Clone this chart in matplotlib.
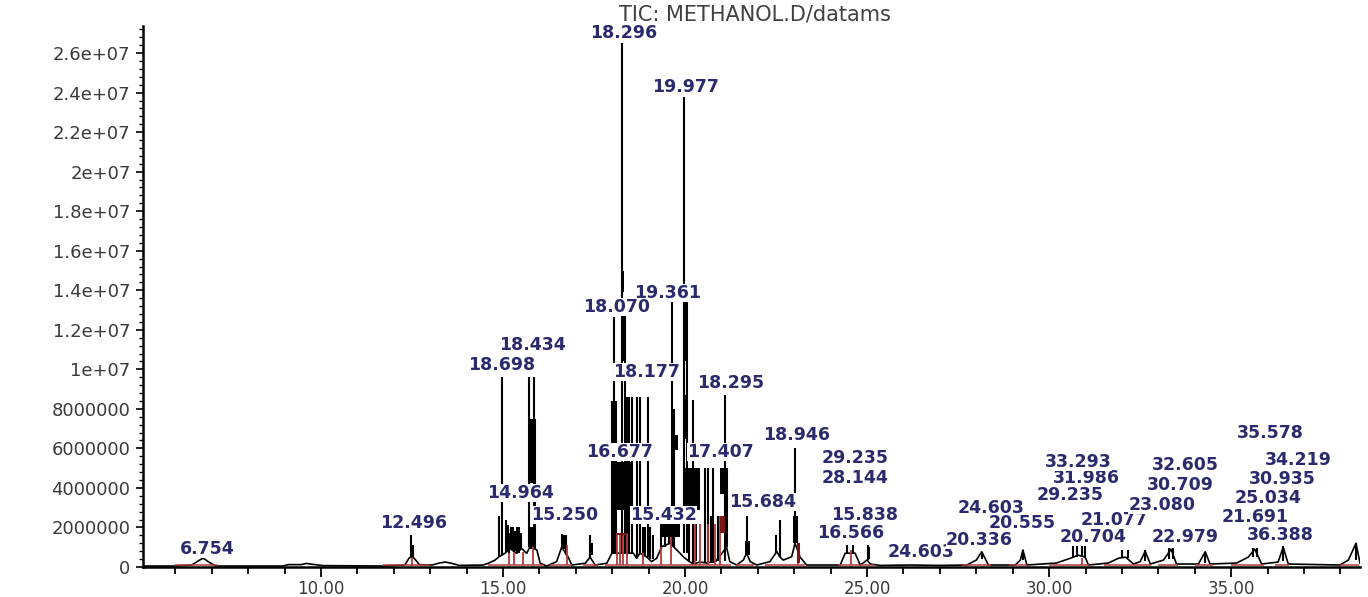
import matplotlib
matplotlib.use('Agg')
import matplotlib.pyplot as plt
from matplotlib.ticker import MultipleLocator, FixedLocator, FixedFormatter
import numpy as np

M = 1e6  # abundances below are in millions

# low level TIC trace: (retention time min, abundance)
tic_trace = [
    (5.11, 0.05), (6.00, 0.05), (6.45, 0.10), (6.62, 0.30), (6.76, 0.45), (6.92, 0.25),
    (7.10, 0.05), (8.95, 0.05), (9.10, 0.12), (9.45, 0.12), (9.60, 0.18), (9.75, 0.14),
    (10.05, 0.07), (11.70, 0.05), (12.30, 0.10), (12.42, 0.45), (12.50, 0.55), (12.58, 0.40),
    (12.70, 0.12), (13.05, 0.10), (13.25, 0.20), (13.42, 0.25), (13.60, 0.18), (13.80, 0.08),
    (14.45, 0.10), (14.60, 0.19), (14.78, 0.35), (14.89, 0.52), (15.05, 0.69), (15.19, 0.94),
    (15.37, 0.69), (15.51, 0.94), (15.65, 0.69), (15.74, 1.03), (15.93, 0.86), (16.02, 0.19),
    (16.20, 0.05), (16.47, 0.27), (16.61, 1.00), (16.79, 0.50), (16.89, 0.10), (17.26, 0.19),
    (17.39, 0.50), (17.53, 0.10), (17.85, 0.19), (17.99, 0.70), (18.58, 0.70), (18.67, 0.44),
    (18.76, 0.70), (18.94, 0.52), (19.08, 0.27), (19.22, 0.44), (19.36, 1.03), (19.59, 1.20),
    (19.86, 0.70), (19.95, 0.52), (20.10, 0.30), (20.22, 0.15), (20.40, 0.25), (20.60, 0.20),
    (20.85, 0.30), (21.14, 1.00), (21.23, 0.27), (21.42, 0.10), (21.60, 0.35), (21.69, 0.70),
    (21.79, 0.27), (21.97, 0.10), (22.33, 0.27), (22.52, 0.78), (22.60, 0.52), (22.70, 0.35),
    (22.93, 0.52), (23.02, 1.20), (23.16, 0.50), (23.34, 0.10), (24.26, 0.10), (24.40, 0.70),
    (24.53, 0.70), (24.67, 0.70), (24.81, 0.10), (25.00, 0.35), (25.09, 0.15), (25.36, 0.08),
    (26.20, 0.10), (27.00, 0.08), (27.74, 0.10), (28.00, 0.35), (28.15, 0.77), (28.24, 0.44),
    (28.33, 0.10), (29.07, 0.10), (29.21, 0.35), (29.28, 0.86), (29.39, 0.10), (30.20, 0.20),
    (30.58, 0.44), (30.80, 0.60), (30.99, 0.50), (31.08, 0.10), (31.63, 0.20), (31.90, 0.44),
    (32.10, 0.50), (32.32, 0.15), (32.50, 0.27), (32.64, 0.80), (32.78, 0.15), (33.14, 0.35),
    (33.35, 0.90), (33.50, 0.15), (34.10, 0.15), (34.29, 0.77), (34.42, 0.15), (35.15, 0.20),
    (35.47, 0.50), (35.65, 0.90), (35.84, 0.15), (36.29, 0.25), (36.43, 1.00), (36.57, 0.15),
    (37.99, 0.10), (38.22, 0.35), (38.43, 1.20), (38.54, 0.20),
]

# sharp scan spikes: (time, low, high)
spikes = [
    (12.47, 0.45, 1.62), (12.53, 0.45, 1.11),
    (14.89, 0.5, 2.6), (14.97, 0.6, 9.6), (15.08, 0.7, 2.4), (15.13, 0.8, 2.1),
    (15.22, 0.9, 2.0), (15.28, 0.8, 2.0), (15.33, 0.8, 1.8), (15.37, 0.7, 2.0),
    (15.44, 0.9, 2.0), (15.50, 0.9, 1.7),
    (15.70, 1.0, 9.6), (15.85, 1.0, 9.6), (15.88, 1.0, 7.5),
    (16.62, 0.9, 1.65), (16.72, 0.6, 1.6), (17.39, 0.5, 1.6),
    (17.99, 0.7, 8.4), (18.05, 0.7, 12.66), (18.10, 0.7, 8.4), (18.28, 0.7, 26.5),
    (18.34, 0.7, 12.7), (18.40, 0.7, 8.6), (18.46, 0.7, 8.6), (18.55, 0.7, 8.6),
    (18.68, 0.5, 8.6), (18.76, 0.7, 8.6), (18.98, 0.5, 8.6),
    (18.85, 0.5, 2.0), (18.90, 0.6, 2.0), (19.04, 0.4, 2.0), (19.12, 0.4, 1.6),
    (19.33, 1.0, 2.5), (19.45, 1.0, 2.5), (19.55, 1.2, 2.5),
    (19.64, 1.0, 13.4), (19.70, 1.0, 8.0), (19.97, 0.7, 23.8), (20.04, 0.7, 13.4),
    (20.22, 0.15, 8.45), (20.12, 0.3, 5.0),
    (20.31, 0.3, 2.6), (20.54, 0.2, 5.0), (20.63, 0.2, 5.0), (20.72, 0.2, 2.6),
    (20.77, 0.2, 5.0), (20.91, 0.3, 2.6), (21.10, 0.3, 8.7), (21.14, 1.0, 5.0),
    (21.70, 0.7, 2.6), (22.50, 0.7, 1.6), (22.60, 0.52, 2.4), (23.02, 1.2, 6.0),
    (24.45, 0.7, 1.1), (24.62, 0.7, 1.1), (25.03, 0.35, 1.1),
    (28.16, 0.4, 0.77), (29.28, 0.35, 0.86), (30.67, 0.44, 1.04), (30.76, 0.5, 1.04),
    (30.90, 0.5, 1.04), (30.99, 0.5, 1.04), (32.00, 0.44, 0.86), (32.18, 0.44, 0.86),
    (32.64, 0.3, 0.86), (33.28, 0.4, 0.94), (33.41, 0.4, 0.94), (34.29, 0.2, 0.77),
    (35.59, 0.5, 0.94), (35.72, 0.5, 0.94), (36.43, 0.3, 1.04), (38.43, 0.35, 1.21),
]

# dense scan regions drawn solid: (t0, t1, low, high)
dense = [
    (14.95, 14.99, 4.25, 5.3), (15.70, 15.88, 4.25, 7.5), (15.70, 15.90, 0.9, 2.0),
    (15.14, 15.20, 0.7, 1.7), (15.30, 15.34, 0.8, 1.7), (15.40, 15.46, 0.7, 1.6),
    (16.58, 16.75, 0.9, 1.6), (17.39, 17.47, 0.6, 1.2), (17.99, 18.10, 6.1, 6.9),
    (18.26, 18.32, 13.9, 15.0), (18.27, 18.35, 10.4, 12.7), (17.99, 18.54, 2.9, 5.3),
    (19.64, 19.80, 5.9, 6.7), (19.95, 20.05, 10.4, 13.4), (19.95, 20.05, 6.5, 8.7),
    (19.95, 20.41, 2.9, 5.0), (19.62, 19.68, 2.9, 4.9), (20.96, 21.15, 3.7, 5.0),
    (19.31, 19.86, 1.5, 2.4), (21.66, 21.78, 0.6, 1.3), (22.97, 23.10, 1.2, 2.6),
    (25.00, 25.08, 0.4, 1.0),
]

# integration marks (red)
red_marks = [
    (12.50, 0.05, 0.5), (15.15, 0.1, 0.69), (15.31, 0.1, 0.75), (15.54, 0.1, 0.75),
    (15.81, 0.1, 1.0), (16.77, 0.1, 1.1), (18.12, 0.1, 1.7), (18.21, 0.1, 1.7),
    (18.30, 0.1, 1.7), (18.40, 0.1, 1.7), (18.85, 0.1, 0.69), (19.35, 0.1, 1.0),
    (19.62, 0.1, 1.5), (20.27, 0.1, 2.2), (20.41, 0.1, 2.2), (20.63, 0.1, 2.2),
    (20.81, 0.1, 2.2), (20.96, 0.1, 2.6), (23.10, 0.1, 1.2), (24.55, 0.1, 0.87),
    (30.90, 0.1, 0.44),
]
red_dense = [(18.12, 18.40, 1.6, 1.7), (20.96, 21.10, 1.7, 2.6), (23.07, 23.16, 0.2, 1.2)]
red_base_t0 = [6.0, 11.7, 14.6, 16.3, 17.2, 17.8, 21.4, 22.2, 24.2, 27.6, 28.9, 30.0,
               31.5, 32.4, 33.0, 34.0, 35.0, 36.2, 38.0]
red_base_t1 = [7.15, 13.0, 16.1, 16.9, 17.6, 21.25, 21.9, 23.3, 25.2, 28.4, 29.4, 31.1,
               32.4, 32.8, 33.55, 34.5, 35.9, 36.6, 38.5]
red_base_y = 0.08

peak_labels = ['18.296', '19.977', '19.361', '18.070', '18.434', '18.698', '18.177',
               '18.295', '18.946', '16.677', '17.407', '29.235', '28.144', '14.964',
               '15.684', '15.250', '15.432', '15.838', '16.566', '24.603', '20.336',
               '24.603', '20.555', '21.077', '29.235', '31.986', '33.293', '32.605',
               '30.709', '23.080', '20.704', '22.979', '36.388', '21.691', '25.034',
               '30.935', '34.219', '35.578', '12.496', '6.754']
label_xy = [(18.30, 27.04), (20.00, 24.30), (19.51, 13.87), (18.13, 13.16), (15.82, 11.24),
            (14.97, 10.23), (18.93, 9.87), (21.24, 9.32), (23.05, 6.68), (18.19, 5.82),
            (20.96, 5.82), (24.67, 5.52), (24.67, 4.51), (15.47, 3.75), (22.14, 3.29),
            (16.70, 2.63), (19.40, 2.63), (24.92, 2.63), (24.56, 1.72), (26.48, 0.76),
            (28.08, 1.37), (28.41, 2.99), (29.26, 2.23), (31.79, 2.38), (30.58, 3.65),
            (31.02, 4.51), (30.80, 5.32), (33.74, 5.16), (33.60, 4.15), (33.10, 3.14),
            (31.21, 1.52), (33.74, 1.52), (36.35, 1.62), (35.66, 2.53), (36.02, 3.49),
            (36.40, 4.45), (36.84, 5.40), (36.07, 6.78), (12.53, 2.23), (6.87, 0.91)]

ytick_vals = [0, 2, 4, 6, 8, 10, 12, 14, 16, 18, 20, 22, 24, 26]
ytick_text = ['0', '2000000', '4000000', '6000000', '8000000', '1e+07', '1.2e+07',
              '1.4e+07', '1.6e+07', '1.8e+07', '2e+07', '2.2e+07', '2.4e+07', '2.6e+07']
xtick_vals = [10, 15, 20, 25, 30, 35]

fig = plt.figure(figsize=(13.68, 5.97), dpi=100)
ax = fig.add_axes([143 / 1368, 30 / 597, 1217 / 1368, 541 / 597])

tr = np.array(tic_trace)
ax.plot(tr[:, 0], tr[:, 1] * M, color='black', lw=1.2, zorder=2)

sp = np.array(spikes)
ax.vlines(sp[:, 0], sp[:, 1] * M, sp[:, 2] * M, color='black', lw=1.5, zorder=2)

for t0, t1, lo, hi in dense:
    ax.bar(t0, (hi - lo) * M, bottom=lo * M, width=t1 - t0, align='edge',
           color='black', lw=0, zorder=2)

ax.hlines([red_base_y * M] * len(red_base_t0), red_base_t0, red_base_t1,
          color='#b23a3a', lw=1.1, zorder=3)
rm = np.array(red_marks)
ax.vlines(rm[:, 0], rm[:, 1] * M, rm[:, 2] * M, color='#b23a3a', lw=1.3, zorder=3)
for t0, t1, lo, hi in red_dense:
    ax.bar(t0, (hi - lo) * M, bottom=lo * M, width=t1 - t0, align='edge',
           color='#7a1515', lw=0, zorder=3)

for txt, (x, y) in zip(peak_labels, label_xy):
    ax.text(x, y * M, txt, ha='center', va='center', fontsize=12.5, fontweight='bold',
            color='#2a2a6c', zorder=5,
            bbox=dict(facecolor='white', edgecolor='none', pad=0))

ax.set_xlim(5.11, 38.54)
ax.set_ylim(0, 27.37 * M)

ax.xaxis.set_major_locator(FixedLocator(xtick_vals))
ax.xaxis.set_major_formatter(FixedFormatter(['%.2f' % v for v in xtick_vals]))
ax.xaxis.set_minor_locator(MultipleLocator(1))
ax.yaxis.set_major_locator(FixedLocator([v * M for v in ytick_vals]))
ax.yaxis.set_major_formatter(FixedFormatter(ytick_text))
ax.yaxis.set_minor_locator(MultipleLocator(0.4 * M))

ax.tick_params(axis='x', which='major', length=7, width=1.3, pad=2,
               labelsize=12, labelcolor='#3a3a3a', direction='out')
ax.tick_params(axis='x', which='minor', length=5, width=1.3, direction='out')
ax.tick_params(axis='y', which='major', length=5, width=1.2, pad=4,
               labelsize=13, labelcolor='#3a3a3a', direction='out')
ax.tick_params(axis='y', which='minor', length=3, width=1.0, direction='out')

for s in ['top', 'right']:
    ax.spines[s].set_visible(False)
for s in ['left', 'bottom']:
    ax.spines[s].set_linewidth(1.8)

fig.text(755 / 1368, 1 - 15 / 597, 'TIC: METHANOL.D/datams', ha='center', va='center',
         fontsize=15, color='#404040')

fig.savefig('out.png', dpi=100)
